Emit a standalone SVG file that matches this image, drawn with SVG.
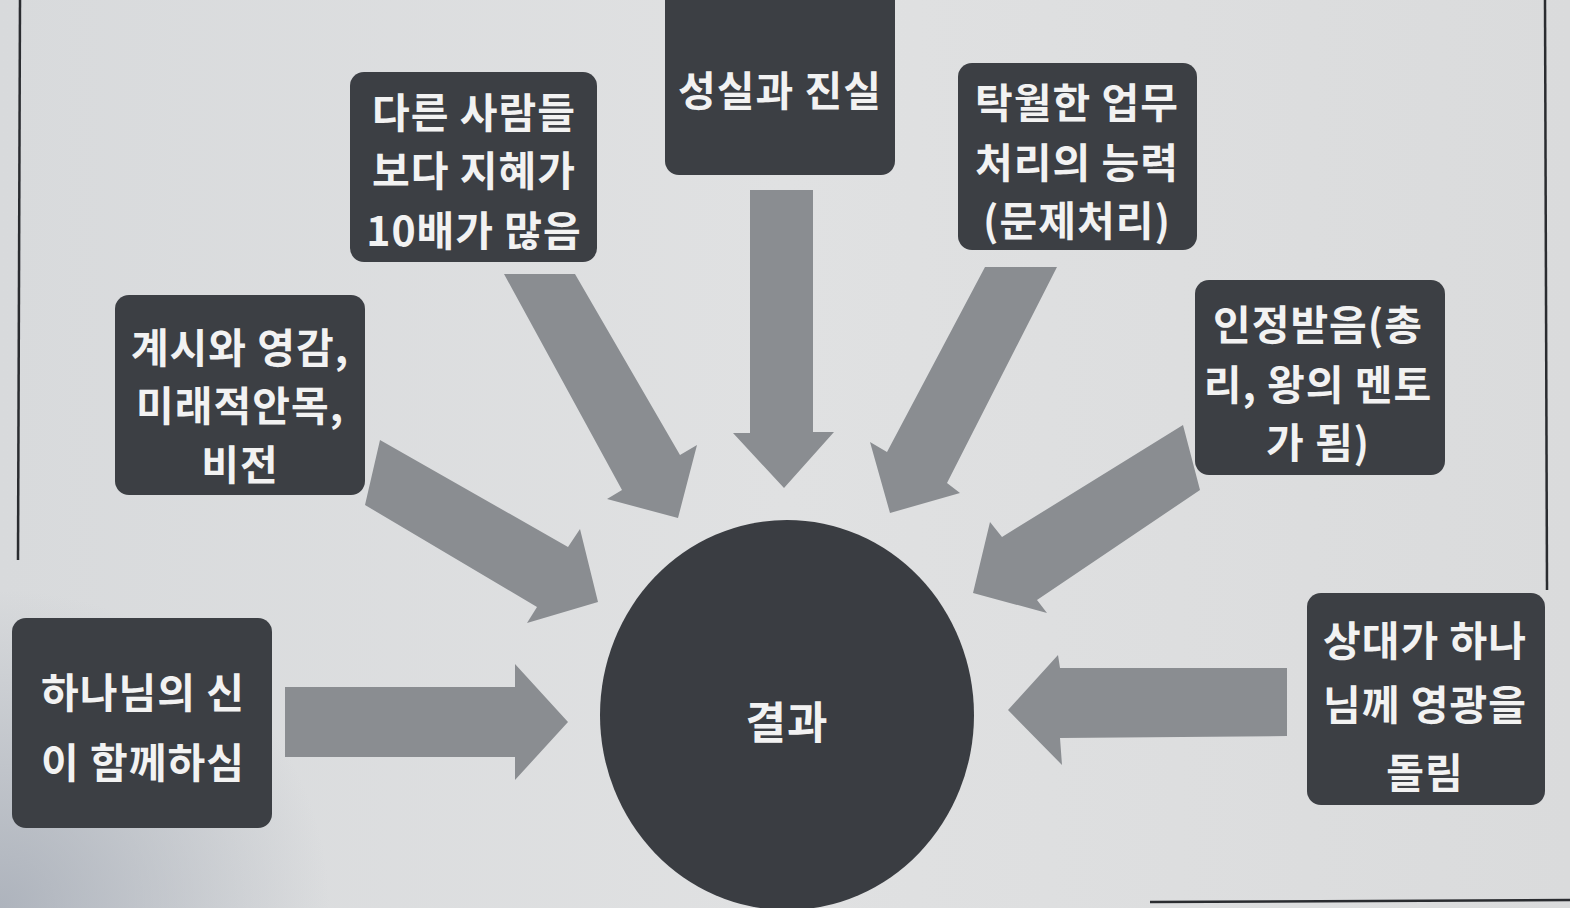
<svg xmlns="http://www.w3.org/2000/svg" width="1570" height="908" viewBox="0 0 1570 908">
  <defs>
    <linearGradient id="bg" x1="0" y1="0" x2="1" y2="0">
      <stop offset="0" stop-color="#d8dadc"/>
      <stop offset="0.5" stop-color="#e0e1e2"/>
      <stop offset="1" stop-color="#dadbdc"/>
    </linearGradient>
    <radialGradient id="shade" cx="0" cy="1" r="0.35" gradientTransform="translate(0,0) scale(0.6,1)">
      <stop offset="0" stop-color="#a9afb9" stop-opacity="0.9"/>
      <stop offset="1" stop-color="#a9afb9" stop-opacity="0"/>
    </radialGradient>
    <style>
      .box { fill: #3c3f44; }
      .res { fill: #3a3d42; }
      .arr { fill: #8a8d91; }
      .frame { stroke: #2a2c30; stroke-width: 2.5; fill: none; }
      .t { font-family: "Noto Sans CJK KR", "Noto Sans", sans-serif; font-weight: 700; font-size: 41px; letter-spacing: 1px; fill: #f2f2f2; text-anchor: middle; dominant-baseline: central; }
      .big { font-size: 44px; }
    </style>
  </defs>

  <rect x="0" y="0" width="1570" height="908" fill="url(#bg)"/>
  <rect x="0" y="0" width="1570" height="908" fill="url(#shade)"/>

  <!-- page frame lines -->
  <line class="frame" x1="20" y1="0" x2="18" y2="560"/>
  <line class="frame" x1="1545" y1="0" x2="1547" y2="590"/>
  <line class="frame" x1="1150" y1="902" x2="1570" y2="900"/>

  <!-- connectors -->
  <g id="connectors">
    <polygon class="arr" points="750,190 813,190 813,432 834,432 784,488 733,433 750,433"/>
    <polygon class="arr" points="504,274 575,274 680,455 697,445 678,518 607,499 622,490"/>
    <polygon class="arr" points="985,267 1057,267 947,483 960,493 890,513 870,442 887,452"/>
    <polygon class="arr" points="380,440 568,547 580,529 598,602 527,623 537,607 365,505"/>
    <polygon class="arr" points="1183,425 1002,537 990,522 973,593 1047,613 1037,600 1200,490"/>
    <polygon class="arr" points="285,687 515,687 515,664 568,722 515,780 515,757 285,757"/>
    <polygon class="arr" points="1287,668 1060,668 1058,655 1008,710 1062,765 1060,738 1287,736"/>
  </g>

  <g id="node-sincerity">
    <rect class="box" x="665" y="-20" width="230" height="195" rx="14"/>
    <text class="t" x="780" y="88">성실과 진실</text>
  </g>

  <g id="node-wisdom">
    <rect class="box" x="350" y="72" width="247" height="190" rx="14"/>
    <text class="t" x="474" y="110">다른 사람들</text>
    <text class="t" x="474" y="168">보다 지혜가</text>
    <text class="t" x="474" y="228">10배가 많음</text>
  </g>

  <g id="node-ability">
    <rect class="box" x="958" y="63" width="239" height="187" rx="14"/>
    <text class="t" x="1077" y="100">탁월한 업무</text>
    <text class="t" x="1077" y="160">처리의 능력</text>
    <text class="t" x="1077" y="218">(문제처리)</text>
  </g>

  <g id="node-revelation">
    <rect class="box" x="115" y="295" width="250" height="200" rx="14"/>
    <text class="t" x="240" y="345">계시와 영감,</text>
    <text class="t" x="240" y="403">미래적안목,</text>
    <text class="t" x="240" y="462">비전</text>
  </g>

  <g id="node-recognition">
    <rect class="box" x="1195" y="280" width="250" height="195" rx="14"/>
    <text class="t" x="1318" y="322">인정받음(총</text>
    <text class="t" x="1318" y="382">리, 왕의 멘토</text>
    <text class="t" x="1318" y="440">가 됨)</text>
  </g>

  <g id="node-spirit">
    <rect class="box" x="12" y="618" width="260" height="210" rx="14"/>
    <text class="t" x="143" y="690">하나님의 신</text>
    <text class="t" x="143" y="760">이 함께하심</text>
  </g>

  <g id="node-glory">
    <rect class="box" x="1307" y="593" width="238" height="212" rx="14"/>
    <text class="t" x="1425" y="638">상대가 하나</text>
    <text class="t" x="1425" y="702">님께 영광을</text>
    <text class="t" x="1425" y="770">돌림</text>
  </g>

  <g id="node-result">
    <ellipse class="res" cx="787" cy="715" rx="187" ry="195"/>
    <text class="t big" x="787" y="720">결과</text>
  </g>
</svg>
